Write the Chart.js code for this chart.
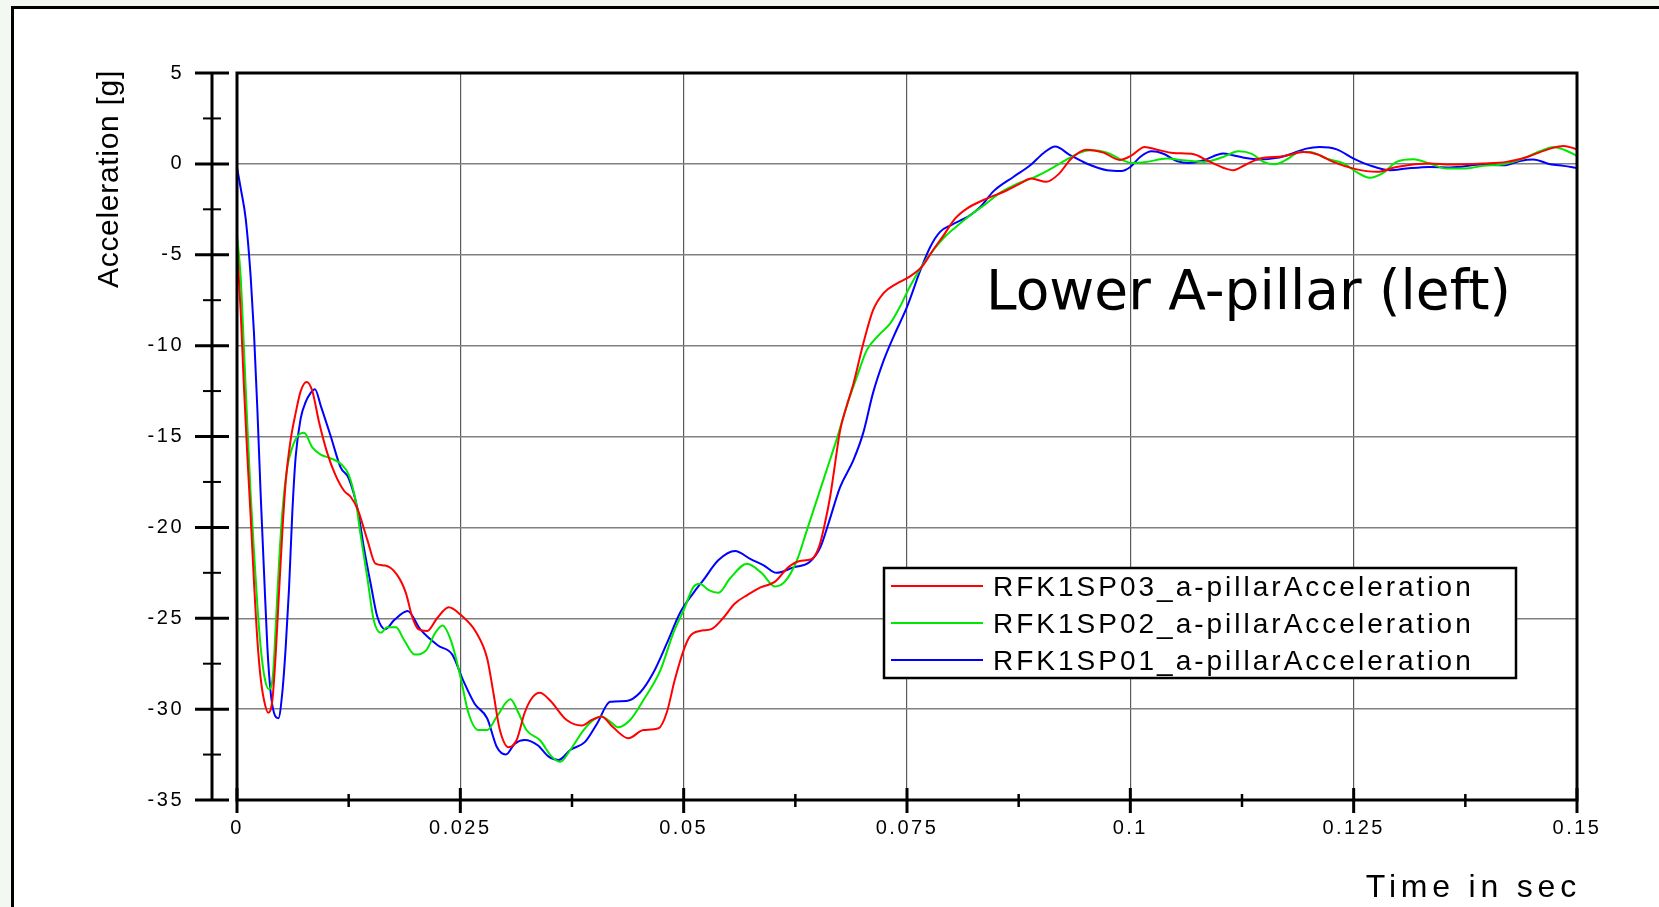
<!DOCTYPE html>
<html>
<head>
<meta charset="utf-8">
<title>Lower A-pillar (left)</title>
<script src="https://cdn.jsdelivr.net/npm/chart.js@4.4.1/dist/chart.umd.min.js"></script>
<style>
  html, body { margin: 0; padding: 0; background: #f3f8f3; overflow: hidden; }
  #frame {
    position: absolute; left: 11px; top: 6px; width: 1700px; height: 960px;
    background: #fff; border: 3px solid #000; box-sizing: border-box;
  }
  #chart { position: absolute; left: 0; top: 0; }
</style>
</head>
<body>
<div id="frame"></div>
<canvas id="chart" width="1659" height="907"></canvas>
<script>
// Lower A-pillar (left) acceleration, three sled tests

const seriesLabels = [
  "RFK1SP03_a-pillarAcceleration",
  "RFK1SP02_a-pillarAcceleration",
  "RFK1SP01_a-pillarAcceleration",
];
const seriesColors = ["#ff0000", "#00e800", "#0000ff"];

const xTickStep = 0.025;
const yTickStep = 5;

// RFK1SP03 (red): time in ms, acceleration in g
const redTimeMs = [0, 0.41, 0.78, 1.16, 1.53, 1.9, 2.28, 2.65, 3.02, 3.5, 3.96, 4.33, 4.7, 5.07, 5.45, 6.0, 6.57, 7.13, 7.8, 8.43, 9.18, 10.1, 11.0, 12.0, 12.7, 13.5, 14.6, 15.5, 16.6, 17.9, 18.9, 19.6, 20.3, 21.3, 22.4, 23.7, 25.0, 26.8, 28.0, 28.7, 29.4, 30.4, 31.3, 32.2, 33.0, 33.9, 35.0, 36.9, 38.6, 39.7, 40.8, 42.1, 43.8, 45.5, 47.2, 48.1, 49.0, 50.0, 50.7, 51.8, 53.1, 54.4, 55.7, 57.2, 58.6, 60.2, 61.7, 63.0, 64.3, 65.2, 65.8, 66.4, 66.8, 67.5, 68.2, 69.0, 70.1, 71.2, 72.4, 73.8, 75.3, 76.8, 77.9, 79.1, 80.4, 81.7, 83.5, 86.2, 87.65, 88.9, 90.6, 92.0, 93.4, 95.1, 97.0, 98.8, 100.15, 101.6, 103.0, 104.8, 107.1, 108.55, 110.4, 111.5, 113.0, 114.5, 117.1, 119.4, 120.9, 122.7, 125.0, 127.6, 129.8, 133.5, 135.8, 139.5, 142.1, 144.4, 147.0, 148.5, 150];
const redAccel = [-4.5, -8.1, -12.3, -16.1, -19.4, -23.0, -26.2, -28.3, -29.5, -30.2, -29.5, -27.0, -23.6, -20.3, -17.5, -15.2, -13.7, -12.5, -12.0, -12.5, -14.2, -15.9, -17.1, -18.0, -18.3, -19.0, -20.7, -22.0, -22.1, -22.6, -23.6, -24.9, -25.6, -25.7, -25.0, -24.4, -24.8, -25.8, -27.2, -29.1, -31.1, -32.1, -31.7, -30.2, -29.4, -29.1, -29.5, -30.6, -30.9, -30.6, -30.4, -31.0, -31.6, -31.15, -31.05, -30.2, -28.4, -26.75, -26.0, -25.7, -25.6, -25.0, -24.2, -23.7, -23.3, -23.0, -22.2, -21.85, -21.75, -21.0, -19.8, -18.3, -17.0, -14.7, -13.4, -12.1, -9.9, -8.05, -7.1, -6.6, -6.2, -5.58, -4.75, -3.93, -3.0, -2.46, -2.0, -1.45, -1.09, -0.81, -0.99, -0.55, 0.3, 0.78, 0.62, 0.22, 0.47, 0.93, 0.78, 0.6, 0.53, 0.2, -0.21, -0.35, -0.02, 0.3, 0.42, 0.66, 0.53, 0.11, -0.26, -0.44, -0.17, 0.02, -0.04, 0.02, 0.11, 0.38, 0.84, 0.99, 0.8];

// RFK1SP02 (green)
const greenTimeMs = [0, 0.41, 0.78, 1.16, 1.53, 1.9, 2.28, 2.65, 3.1, 3.58, 4.03, 4.33, 4.7, 5.07, 5.63, 6.19, 6.75, 7.5, 8.43, 9.37, 10.5, 11.6, 12.5, 13.3, 13.8, 14.6, 15.3, 16.1, 16.8, 17.8, 18.7, 19.9, 21.2, 22.2, 23.0, 24.0, 25.0, 25.9, 27.0, 28.0, 29.1, 30.6, 31.5, 32.4, 33.9, 35.2, 36.2, 37.3, 38.8, 39.9, 40.8, 41.8, 42.7, 44.0, 45.5, 47.4, 48.85, 50.0, 51.1, 51.8, 52.8, 53.9, 55.2, 57.1, 58.7, 60.2, 61.3, 62.65, 63.8, 64.9, 66.0, 67.1, 68.2, 69.4, 70.5, 72.0, 73.1, 74.2, 75.3, 76.6, 77.95, 79.4, 80.9, 82.4, 83.7, 85.4, 87.3, 89.1, 91.0, 92.9, 94.4, 95.5, 97.4, 98.9, 100.3, 101.8, 104.1, 105.9, 108.2, 110.4, 112.1, 113.6, 114.9, 116.2, 117.5, 119.0, 120.1, 122.0, 123.9, 125.3, 126.8, 128.3, 129.8, 131.7, 133.5, 135.4, 137.3, 139.5, 141.8, 144.0, 145.9, 147.4, 148.7, 150];
const greenAccel = [-3.9, -6.2, -10.2, -14.4, -18.2, -21.3, -24.3, -26.6, -28.3, -28.9, -28.1, -25.5, -22.0, -19.2, -16.7, -15.6, -15.0, -14.8, -15.6, -16.0, -16.2, -16.5, -17.1, -18.6, -20.3, -22.8, -25.1, -25.8, -25.5, -25.5, -26.2, -27.0, -26.75, -25.8, -25.4, -26.3, -28.2, -30.2, -31.15, -31.15, -30.4, -29.46, -30.2, -31.15, -31.7, -32.6, -32.9, -32.25, -31.15, -30.6, -30.4, -30.7, -31.0, -30.6, -29.5, -27.85, -25.8, -24.55, -23.27, -23.1, -23.45, -23.6, -22.8, -22.0, -22.5, -23.25, -23.0, -21.85, -20.15, -18.5, -16.85, -15.2, -13.4, -11.7, -10.25, -9.34, -8.79, -7.87, -6.77, -5.67, -4.75, -3.93, -3.3, -2.7, -2.25, -1.6, -1.1, -0.77, -0.3, 0.25, 0.62, 0.75, 0.62, 0.25, 0.05, 0.11, 0.29, 0.2, 0.11, 0.38, 0.69, 0.55, 0.11, -0.02, 0.24, 0.66, 0.66, 0.29, 0.02, -0.44, -0.77, -0.5, 0.11, 0.25, 0.02, -0.26, -0.26, -0.11, -0.02, 0.29, 0.71, 0.93, 0.75, 0.44];

// RFK1SP01 (blue)
const blueTimeMs = [0, 0.41, 0.97, 1.53, 1.9, 2.28, 2.65, 3.02, 3.4, 3.77, 4.14, 4.63, 5.07, 5.45, 5.82, 6.19, 6.57, 7.13, 7.69, 8.25, 8.73, 9.37, 10.5, 11.6, 12.5, 13.5, 14.2, 15.0, 15.7, 16.6, 17.6, 19.1, 20.5, 22.5, 24.1, 25.3, 26.6, 28.0, 29.1, 30.1, 31.1, 32.2, 33.7, 34.85, 36.0, 37.3, 38.96, 40.3, 41.76, 43.6, 45.1, 46.6, 48.1, 49.6, 51.1, 52.2, 53.9, 55.75, 57.5, 59.0, 60.4, 62.3, 64.1, 65.3, 66.2, 67.5, 69.0, 70.1, 71.2, 72.4, 73.5, 75.0, 76.5, 77.6, 78.7, 80.0, 82.0, 83.2, 84.7, 86.9, 88.8, 90.3, 91.6, 93.2, 95.1, 97.4, 99.0, 100.0, 101.1, 102.4, 103.7, 105.2, 106.5, 108.2, 110.4, 111.5, 112.7, 114.5, 116.4, 117.9, 119.7, 121.2, 123.1, 125.0, 126.8, 129.1, 130.9, 133.5, 135.8, 139.5, 141.8, 143.6, 145.1, 147.0, 148.5, 150];
const blueAccel = [-0.2, -1.33, -3.0, -6.2, -9.3, -13.5, -18.2, -22.4, -26.6, -29.1, -30.2, -30.5, -29.1, -26.6, -23.4, -19.2, -16.1, -14.0, -13.1, -12.6, -12.4, -13.3, -15.0, -16.7, -17.3, -19.0, -21.1, -23.2, -24.9, -25.6, -25.1, -24.6, -25.6, -26.5, -27.0, -28.4, -29.7, -30.5, -32.1, -32.5, -31.9, -31.7, -32.0, -32.6, -32.8, -32.25, -31.8, -30.8, -29.6, -29.55, -29.1, -28.0, -26.4, -24.7, -23.6, -22.9, -21.8, -21.3, -21.75, -22.1, -22.5, -22.2, -21.9, -21.1, -19.8, -17.8, -16.3, -14.8, -12.6, -10.8, -9.5, -7.87, -5.85, -4.57, -3.74, -3.35, -2.85, -2.37, -1.5, -0.72, -0.08, 0.6, 0.95, 0.5, 0.02, -0.35, -0.39, -0.17, 0.38, 0.69, 0.56, 0.16, 0.05, 0.2, 0.57, 0.47, 0.34, 0.24, 0.33, 0.53, 0.84, 0.93, 0.8, 0.29, -0.08, -0.35, -0.26, -0.17, -0.2, -0.04, -0.08, 0.16, 0.24, -0.02, -0.11, -0.22];

function toPoints(timesMs, values) {
  return timesMs.map((t, i) => ({ x: t / 1000, y: values[i] }));
}

function formatTick(value) {
  return String(+value.toFixed(4));
}

// axis lines, tick marks, plot frame, titles and legend box
const axisFrame = {
  id: "axisFrame",
  beforeDraw(chart) {
    chart.ctx.letterSpacing = "2.5px";
  },
  afterDraw(chart) {
    const ctx = chart.ctx;
    const a = chart.chartArea;
    const x = chart.scales.x;
    const y = chart.scales.y;
    ctx.save();
    ctx.letterSpacing = "0px";
    ctx.strokeStyle = "#000";
    ctx.fillStyle = "#000";
    ctx.lineCap = "butt";

    // plot frame
    ctx.lineWidth = 3;
    ctx.strokeRect(a.left, a.top, a.right - a.left, a.bottom - a.top);

    // offset y axis
    const yx = a.left - 25;
    ctx.beginPath();
    ctx.moveTo(yx, y.getPixelForValue(y.max));
    ctx.lineTo(yx, y.getPixelForValue(y.min) + 1);
    ctx.stroke();
    const yMinor = yTickStep / 2;
    const ny = Math.round((y.max - y.min) / yMinor);
    for (let i = 0; i <= ny; i++) {
      const py = y.getPixelForValue(y.min + i * yMinor);
      const major = i % 2 === 0;
      ctx.lineWidth = major ? 3 : 2;
      const h = major ? 17 : 9;
      ctx.beginPath();
      ctx.moveTo(yx - h, py);
      ctx.lineTo(yx + h, py);
      ctx.stroke();
    }

    // x tick marks
    const xMinor = xTickStep / 2;
    const nx = Math.round((x.max - x.min) / xMinor);
    for (let i = 0; i <= nx; i++) {
      const px = x.getPixelForValue(x.min + i * xMinor);
      const major = i % 2 === 0;
      ctx.lineWidth = major ? 3 : 2.5;
      ctx.beginPath();
      ctx.moveTo(px, a.bottom - (major ? 12 : 6));
      ctx.lineTo(px, a.bottom + (major ? 13 : 7));
      ctx.stroke();
    }

    // axis titles
    ctx.font = "32px 'Liberation Sans', Arial, sans-serif";
    ctx.letterSpacing = "4.8px";
    ctx.textAlign = "right";
    ctx.textBaseline = "alphabetic";
    ctx.fillText("Time in sec", a.right + 4, 897);

    ctx.save();
    ctx.font = "30px 'Liberation Sans', Arial, sans-serif";
    ctx.letterSpacing = "0.7px";
    ctx.translate(118, 288);
    ctx.rotate(-Math.PI / 2);
    ctx.textAlign = "left";
    ctx.fillText("Acceleration [g]", 0, 0);
    ctx.restore();

    // chart caption
    ctx.letterSpacing = "0px";
    ctx.font = "55px 'DejaVu Sans', sans-serif";
    ctx.textAlign = "left";
    ctx.fillText("Lower A-pillar (left)", 986, 309);

    // legend box
    const lx = 884, ly = 568, lw = 632, lh = 110;
    ctx.fillStyle = "#fff";
    ctx.fillRect(lx, ly, lw, lh);
    ctx.lineWidth = 2.5;
    ctx.strokeRect(lx, ly, lw, lh);
    ctx.font = "28px 'Liberation Sans', Arial, sans-serif";
    ctx.letterSpacing = "3px";
    chart.data.datasets.forEach((ds, i) => {
      const cy = 586 + i * 37;
      ctx.strokeStyle = ds.borderColor;
      ctx.lineWidth = 2;
      ctx.beginPath();
      ctx.moveTo(891, cy);
      ctx.lineTo(983, cy);
      ctx.stroke();
      ctx.fillStyle = "#000";
      ctx.fillText(ds.label, 993, cy + 10);
    });
    ctx.restore();
  },
};

const ctx = document.getElementById("chart").getContext("2d");
const seriesData = [
  toPoints(redTimeMs, redAccel),
  toPoints(greenTimeMs, greenAccel),
  toPoints(blueTimeMs, blueAccel),
];

new Chart(ctx, {
  type: "line",
  data: {
    datasets: seriesLabels.map((label, i) => ({
      label: label,
      data: seriesData[i],
      borderColor: seriesColors[i],
      borderWidth: 2,
      pointRadius: 0,
      fill: false,
      cubicInterpolationMode: "monotone",
    })),
  },
  options: {
    responsive: false,
    animation: false,
    layout: {
      padding: { top: 73, right: 82, left: 0, bottom: 0 },
    },
    plugins: {
      legend: { display: false },
      tooltip: { enabled: false },
    },
    scales: {
      x: {
        type: "linear",
        position: "bottom",
        min: 0,
        max: 0.15,
        afterFit: (scale) => {
          scale.height = 107;
        },
        border: { display: false },
        grid: { color: "#5a5a5a", lineWidth: 1.2, drawTicks: false },
        ticks: {
          stepSize: xTickStep,
          padding: 16,
          color: "#000",
          font: { size: 20, family: "'Liberation Sans', Arial, sans-serif" },
          maxRotation: 0,
          callback: formatTick,
        },
      },
      y: {
        min: -35,
        max: 5,
        afterFit: (scale) => {
          scale.width = 237;
        },
        border: { display: false },
        grid: { color: "#808080", lineWidth: 1.5, drawTicks: false },
        ticks: {
          stepSize: yTickStep,
          padding: 53,
          color: "#000",
          font: { size: 20, family: "'Liberation Sans', Arial, sans-serif" },
          callback: formatTick,
        },
      },
    },
  },
  plugins: [axisFrame],
});
</script>
</body>
</html>
